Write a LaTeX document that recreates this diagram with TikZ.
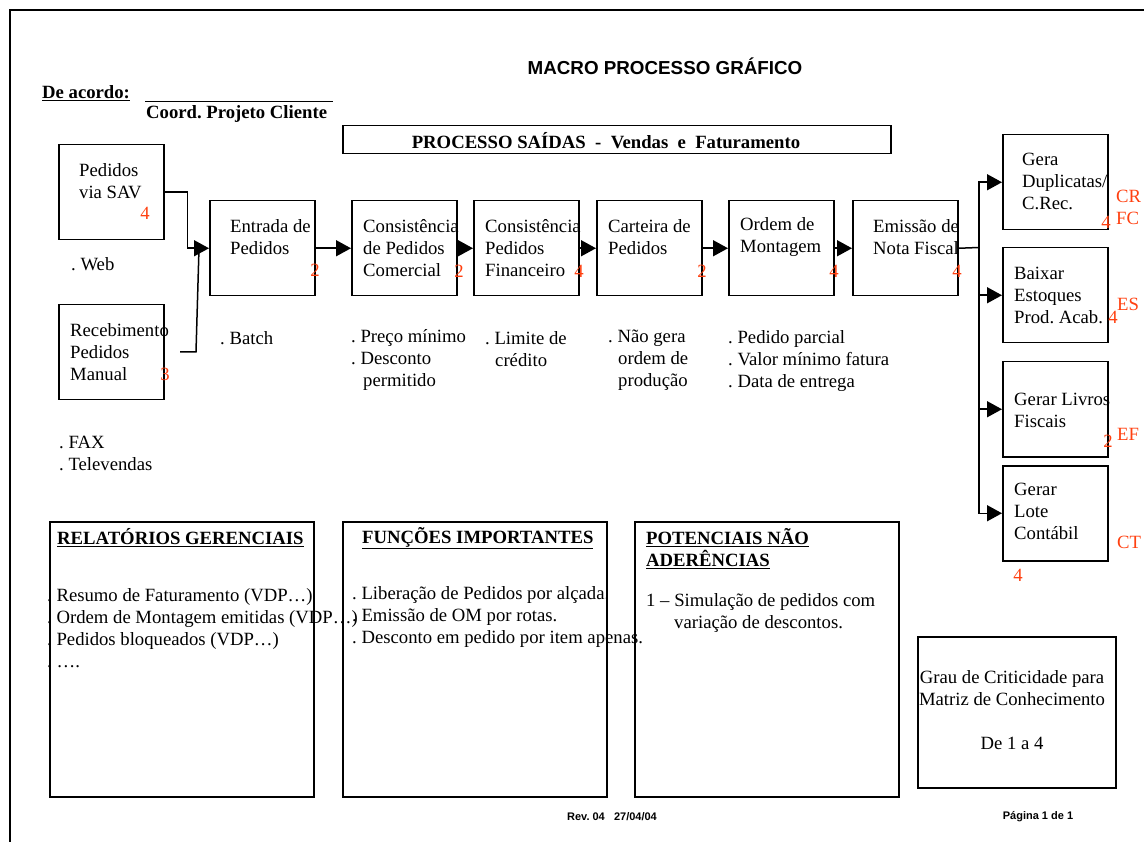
\documentclass[tikz,border=0pt]{standalone}
\usepackage{fontspec}
\setmainfont{Liberation Serif}
\setsansfont{Liberation Sans}
\usetikzlibrary{arrows.meta, positioning}
\definecolor{critico}{RGB}{255,64,16}
\frenchspacing

\begin{document}
\begin{tikzpicture}[x=1pt, y=-1pt, font=\fontsize{18.7}{22}\selectfont]
\tikzstyle{box} = [draw, line width=1.5pt, minimum width=105pt, minimum height=95pt, anchor=north west, inner sep=0pt]
\tikzstyle{painel} = [draw, line width=1.5pt, minimum width=264pt, minimum height=275pt, anchor=north west, inner sep=0pt]
\tikzstyle{txt} = [anchor=west, align=left, inner sep=0pt]
\tikzstyle{negrito} = [font=\fontsize{18.7}{22}\selectfont\bfseries]
\tikzstyle{grau} = [text=critico, inner sep=0pt]
\tikzstyle{arrow} = [line width=1.5pt, -{Triangle[length=15pt, width=16pt]}]
\tikzstyle{linha} = [line width=1.5pt]
\tikzstyle{rodape} = [inner sep=0pt, font=\sffamily\bfseries\fontsize{11}{13}\selectfont]

\useasboundingbox (0,0) rectangle (1144,842);
\draw [linha] (10,842) -- (10,10) -- (1144,10);

\node [inner sep=0pt, font=\sffamily\bfseries\fontsize{18.8}{22}\selectfont] (titulo) at (665,66) {MACRO PROCESSO GRÁFICO};
\node [txt, negrito] (acordo) at (42,93) {\underline{De acordo:}};
\draw [line width=0.8pt] (145,101) -- (333,101);
\node [txt, negrito] (cliente) at (146,114) {Coord. Projeto Cliente};
\node [draw, line width=1.5pt, minimum width=548pt, minimum height=28pt, anchor=north west] (processo) at (342,125) {};
\node [inner sep=0pt, negrito] (processoT) at (606,141) {PROCESSO SAÍDAS\ \ -\ \ Vendas\ \ e\ \ Faturamento};

\node [box] (sav) at (58,144) {};
\node [txt] (savT) at (79,181) {Pedidos\\via SAV};
\node [grau] (savG) at (145,213) {4};
\node [txt] (web) at (71,264) {. Web};

\node [box] (recebimento) at (58,304) {};
\node [txt] (recebimentoT) at (70,352) {Recebimento\\Pedidos\\Manual};
\node [grau] (recebimentoG) at (165,374) {3};
\node [txt] (fax) at (59,453) {. FAX\\. Televendas};

\node [box] (entrada) at (209,200) {};
\node [txt] (entradaT) at (230,237) {Entrada de\\Pedidos};
\node [grau] (entradaG) at (315,270) {2};
\node [txt] (batch) at (220,338) {. Batch};

\node [box] (comercial) at (351,200) {};
\node [txt] (comercialT) at (363,248) {Consistência\\de Pedidos\\Comercial};
\node [grau] (comercialG) at (459,271) {2};
\node [txt] (comercialN) at (351,360) {. Preço mínimo\\. Desconto\\\hspace{12pt}permitido};

\node [box] (financeiro) at (473,200) {};
\node [txt] (financeiroT) at (485,248) {Consistência\\Pedidos\\Financeiro};
\node [grau] (financeiroG) at (579,271) {4};
\node [txt] (financeiroN) at (485,349) {. Limite de\\\hspace{10pt}crédito};

\node [box] (carteira) at (596,200) {};
\node [txt] (carteiraT) at (608,237) {Carteira de\\Pedidos};
\node [grau] (carteiraG) at (702,271) {2};
\node [txt] (carteiraN) at (608,360) {. Não gera\\\hspace{10pt}ordem de\\\hspace{10pt}produção};

\node [box] (montagem) at (728,200) {};
\node [txt] (montagemT) at (740,237) {Ordem de\\Montagem};
\node [grau] (montagemG) at (834,271) {4};
\node [txt] (montagemN) at (728,361) {. Pedido parcial\\. Valor mínimo fatura\\. Data de entrega};

\node [box] (emissao) at (852,200) {};
\node [txt] (emissaoT) at (873,237) {Emissão de\\Nota Fiscal};
\node [grau] (emissaoG) at (957,271) {4};

\node [box] (duplicatas) at (1002,134) {};
\node [txt] (duplicatasT) at (1022,181) {Gera\\Duplicatas/\\C.Rec.};
\node [grau] (duplicatasG) at (1106,222) {4};
\node [grau, anchor=west, align=left] (duplicatasM) at (1116,207) {CR\\FC};

\node [box] (baixar) at (1002,247) {};
\node [txt] (baixarT) at (1014,295) {Baixar\\Estoques\\Prod. Acab.};
\node [grau] (baixarG) at (1113,317) {4};
\node [grau, anchor=west] (baixarM) at (1117,304) {ES};

\node [box] (livros) at (1002,361) {};
\node [txt] (livrosT) at (1014,410) {Gerar Livros\\Fiscais};
\node [grau] (livrosG) at (1108,441) {2};
\node [grau, anchor=west] (livrosM) at (1117,434) {EF};

\node [box] (lote) at (1002,465) {};
\node [txt] (loteT) at (1014,511) {Gerar\\Lote\\Contábil};
\node [grau] (loteG) at (1018,575) {4};
\node [grau, anchor=west] (loteM) at (1117,542) {CT};

\coordinate (manual) at (180,352);
\coordinate (ramal) at (979,247.5);

\draw [arrow] (sav.east) -- ++(23,0) |- (entrada.west);
\draw [linha] (manual) -- (196,352) -- ([xshift=-10pt]entrada.west);
\draw [arrow] (entrada) -- (comercial);
\draw [arrow] (comercial) -- (financeiro);
\draw [arrow] (financeiro) -- (carteira);
\draw [arrow] (carteira) -- (montagem);
\draw [arrow] (montagem) -- (emissao);
\draw [linha] (emissao.east) -- (ramal);
\draw [arrow] (ramal) |- (duplicatas.west);
\draw [arrow] (ramal) |- (baixar.west);
\draw [arrow] (ramal) |- (livros.west);
\draw [arrow] (ramal) |- (lote.west);

\node [painel] (relatorios) at (49,521) {};
\node [txt, negrito] (relatoriosT) at (57,538) {\underline{RELATÓRIOS GERENCIAIS}};
\node [txt] (relatoriosN) at (47,628) {. Resumo de Faturamento (VDP…)\\. Ordem de Montagem emitidas (VDP…)\\. Pedidos bloqueados (VDP…)\\. ….};

\node [painel] (funcoes) at (342,521) {};
\node [txt, negrito] (funcoesT) at (362,538) {\underline{FUNÇÕES IMPORTANTES}};
\node [txt] (funcoesN) at (352,617) {. Liberação de Pedidos por alçada.\\. Emissão de OM por rotas.\\. Desconto em pedido por item apenas.};

\node [painel] (potenciais) at (634,521) {};
\node [txt, negrito] (potenciaisT) at (646,549) {\underline{POTENCIAIS NÃO}\\\underline{ADERÊNCIAS}};
\node [txt] (potenciaisN) at (646,613) {1 – Simulação de pedidos com\\\hspace{28pt}variação de descontos.};

\node [draw, line width=1.5pt, minimum width=198pt, minimum height=151pt, anchor=north west] (criticidade) at (917,636) {};
\node [align=center, inner sep=0pt] (criticidadeT) at (1012,710) {Grau de Criticidade para\\Matriz de Conhecimento\\[22pt]De 1 a 4};

\node [rodape] (revisao) at (612,817) {Rev. 04\ \ \ 27/04/04};
\node [rodape] (pagina) at (1038,817) {Página 1 de 1};
\end{tikzpicture}
\end{document}
